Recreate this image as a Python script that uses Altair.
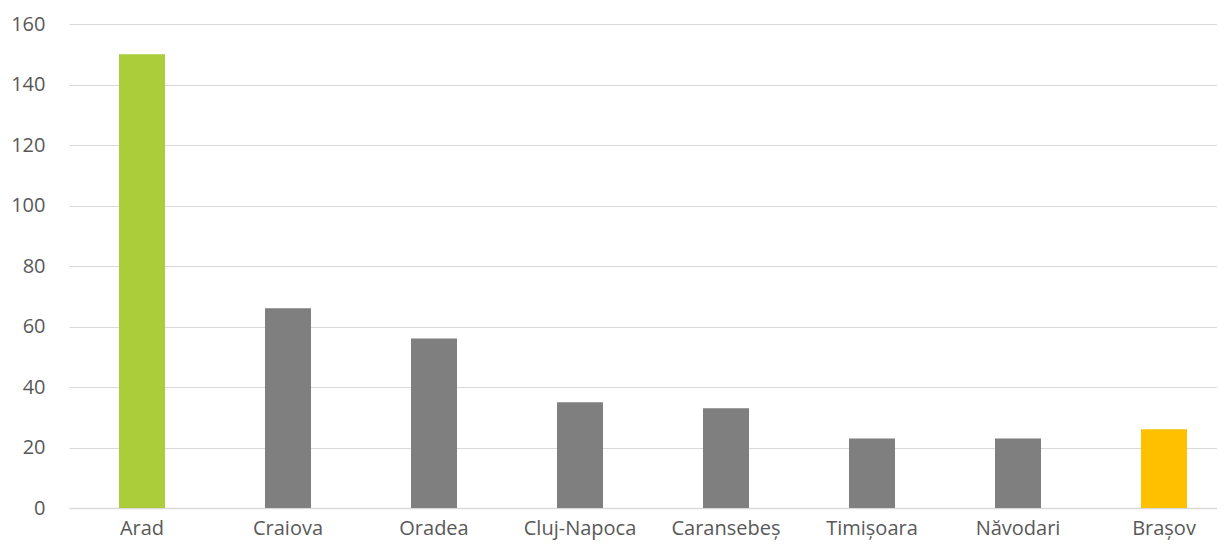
import altair as alt
import pandas as pd

cities = ["Arad", "Craiova", "Oradea", "Cluj-Napoca", "Caransebeș", "Timișoara", "Năvodari", "Brașov"]
values = [150, 66, 56, 35, 33, 23, 23, 26]
bar_colors = ["#ABCD3A", "#7F7F7F", "#7F7F7F", "#7F7F7F", "#7F7F7F", "#7F7F7F", "#7F7F7F", "#FFC000"]
y_ticks = [0, 20, 40, 60, 80, 100, 120, 140, 160]

df = pd.DataFrame({"city": cities, "value": values, "color": bar_colors})

chart = alt.Chart(df).mark_bar(width=46).encode(
    x=alt.X("city:N", sort=cities, title=None,
            scale=alt.Scale(paddingInner=0, paddingOuter=0, range=[0, 1168]),
            axis=alt.Axis(labelAngle=0, ticks=False, grid=False, domain=True,
                          domainColor="#D9D9D9", domainWidth=1.5,
                          labelFont="Open Sans", labelFontSize=20, labelColor="#595959",
                          labelBaseline="alphabetic", labelPadding=26)),
    y=alt.Y("value:Q", title=None,
            scale=alt.Scale(domain=[0, 160], nice=False),
            axis=alt.Axis(values=y_ticks, ticks=False, domain=False,
                          gridColor="#D9D9D9", gridWidth=1,
                          labelFont="Open Sans", labelFontSize=20, labelColor="#595959",
                          labelPadding=24)),
    color=alt.Color("color:N", scale=None, legend=None),
).properties(
    width=1148, height=484,
    autosize=alt.AutoSizeParams(type="none"),
    padding={"left": 61, "top": 16, "right": 0, "bottom": 33},
).configure_view(stroke=None)

chart.save("out.html", embed_options={"renderer": "svg", "actions": False})
